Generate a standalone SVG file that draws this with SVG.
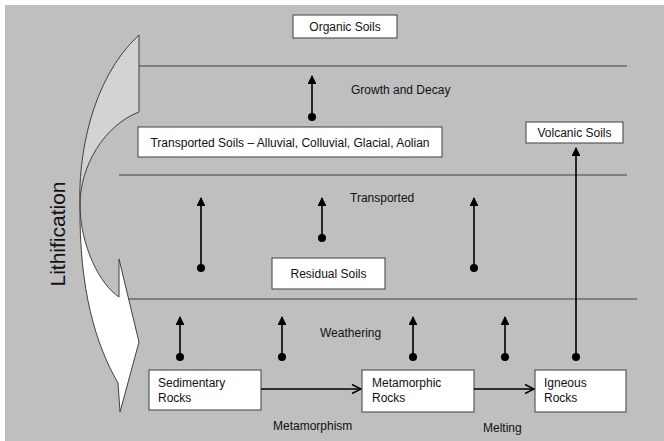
<svg xmlns="http://www.w3.org/2000/svg" width="664" height="441" viewBox="0 0 664 441">
  <defs>
    <style>
      .bg { fill: #bfbfbf; }
      .box { fill: #ffffff; stroke: #595959; stroke-width: 1.2; }
      .lbl { font-family: "Liberation Sans", Arial, sans-serif; font-size: 12px; fill: #111111; }
      .flow { stroke: #000000; stroke-width: 1.6; fill: none; }
      .flow-up { marker-end: url(#tri); marker-start: url(#dot); }
      .flow-right { marker-end: url(#chev); }
    </style>
    <marker id="tri" viewBox="0 0 10 10" refX="9" refY="5" markerWidth="5.5" markerHeight="5.5" orient="auto" markerUnits="strokeWidth">
      <path d="M0,0 L10,5 L0,10 Z" fill="#000000"/>
    </marker>
    <marker id="dot" viewBox="0 0 10 10" refX="5" refY="5" markerWidth="5" markerHeight="5" orient="auto" markerUnits="strokeWidth">
      <circle cx="5" cy="5" r="5" fill="#000000"/>
    </marker>
    <marker id="chev" viewBox="0 0 10 10" refX="9" refY="5" markerWidth="7" markerHeight="7" orient="auto" markerUnits="strokeWidth">
      <path d="M1,1 L9,5 L1,9" fill="none" stroke="#000000" stroke-width="1.3"/>
    </marker>
  </defs>

  <!-- page -->
  <rect x="0" y="0" width="664" height="441" fill="#ffffff"/>
  <rect class="bg" x="5" y="5" width="659" height="436"/>

  <!-- layer boundaries -->
  <g id="layers" stroke="#404040" stroke-width="1">
    <line x1="139" y1="66" x2="627" y2="66"/>
    <line x1="119" y1="175" x2="627" y2="175"/>
    <line x1="129" y1="299" x2="637" y2="299"/>
  </g>

  <!-- curved lithification arrow: shaded back face above the twist, white front face below -->
  <g id="lithification">
    <path d="M139,35 L139,112 C105,125 80,165 80,205 C78,160 90,80 139,35 Z" fill="#d3d3d3" stroke="#404040" stroke-width="1"/>
    <path d="M80,205 C80,245 100,285 119,297 L119,259 L139,342 L120,412 L118,383 C96,345 79,290 80,205 Z" fill="#ffffff" stroke="#404040" stroke-width="1"/>
    <text class="lbl" transform="translate(65,234) rotate(-90)" text-anchor="middle" style="font-size:21px">Lithification</text>
  </g>

  <!-- soil nodes -->
  <g id="organic-soils">
    <rect class="box" x="293" y="15" width="104" height="23"/>
    <text class="lbl" x="345" y="31" text-anchor="middle">Organic Soils</text>
  </g>
  <g id="transported-soils">
    <rect class="box" x="138" y="127" width="304" height="30"/>
    <text class="lbl" x="290" y="147" text-anchor="middle">Transported Soils – Alluvial, Colluvial, Glacial, Aolian</text>
  </g>
  <g id="volcanic-soils">
    <rect class="box" x="526" y="122" width="97" height="21"/>
    <text class="lbl" x="574.5" y="137" text-anchor="middle">Volcanic Soils</text>
  </g>
  <g id="residual-soils">
    <rect class="box" x="272" y="258" width="113" height="31"/>
    <text class="lbl" x="328.5" y="278" text-anchor="middle">Residual Soils</text>
  </g>

  <!-- rock nodes -->
  <g id="sedimentary-rocks">
    <rect class="box" x="149" y="370" width="112" height="40"/>
    <text class="lbl" x="158" y="387">Sedimentary</text>
    <text class="lbl" x="158" y="402">Rocks</text>
  </g>
  <g id="metamorphic-rocks">
    <rect class="box" x="362" y="370" width="112" height="42"/>
    <text class="lbl" x="372" y="387">Metamorphic</text>
    <text class="lbl" x="372" y="402">Rocks</text>
  </g>
  <g id="igneous-rocks">
    <rect class="box" x="535" y="370" width="91" height="42"/>
    <text class="lbl" x="544" y="387">Igneous</text>
    <text class="lbl" x="544" y="402">Rocks</text>
  </g>

  <!-- process labels -->
  <g id="process-labels">
    <text class="lbl" x="351" y="94">Growth and Decay</text>
    <text class="lbl" x="350" y="202">Transported</text>
    <text class="lbl" x="320" y="337">Weathering</text>
    <text class="lbl" x="273" y="430">Metamorphism</text>
    <text class="lbl" x="483" y="432">Melting</text>
  </g>

  <!-- connectors -->
  <g id="connectors">
    <line class="flow flow-up" x1="312" y1="117" x2="312" y2="76"/>
    <line class="flow flow-up" x1="201" y1="268" x2="201" y2="198"/>
    <line class="flow flow-up" x1="322" y1="238" x2="322" y2="198"/>
    <line class="flow flow-up" x1="474" y1="268" x2="474" y2="198"/>
    <line class="flow flow-up" x1="180" y1="357" x2="180" y2="317"/>
    <line class="flow flow-up" x1="282" y1="357" x2="282" y2="317"/>
    <line class="flow flow-up" x1="413" y1="357" x2="413" y2="317"/>
    <line class="flow flow-up" x1="505" y1="357" x2="505" y2="317"/>
    <line class="flow flow-up" x1="576" y1="357" x2="576" y2="148"/>
    <line class="flow flow-right" x1="261" y1="389" x2="361" y2="389"/>
    <line class="flow flow-right" x1="474" y1="389" x2="534" y2="389"/>
  </g>
</svg>
